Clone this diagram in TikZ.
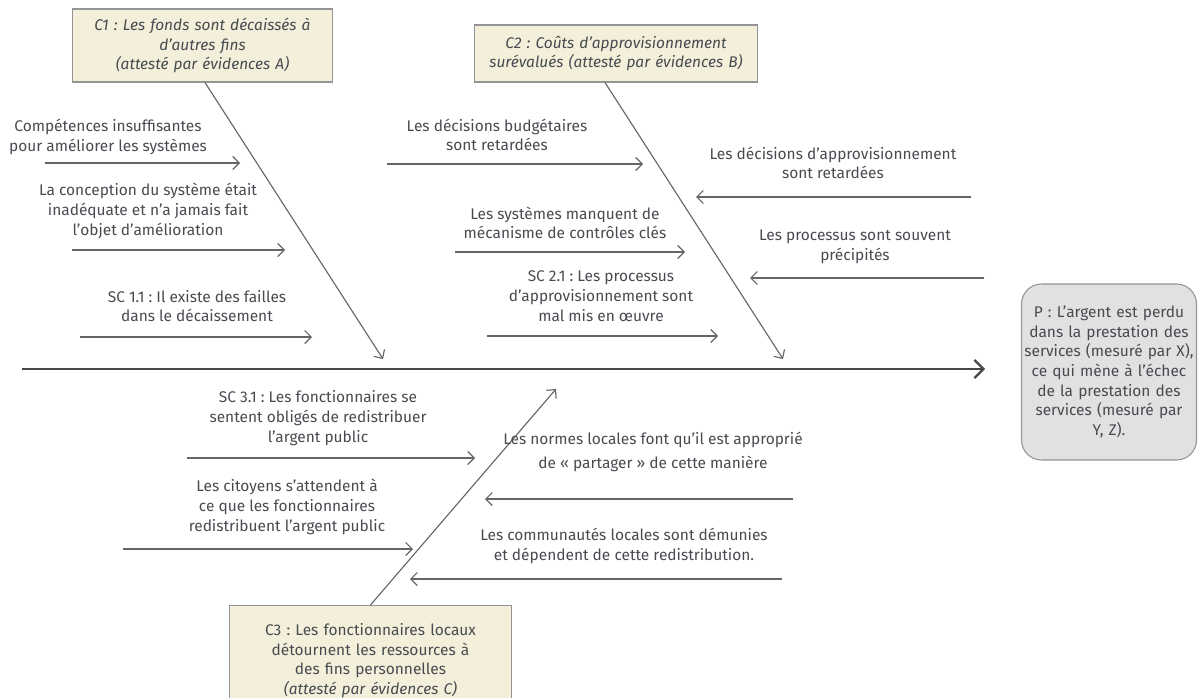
\documentclass[tikz,border=0pt]{standalone}
\usepackage{fontspec}
\setmainfont{Fira Sans}
\usetikzlibrary{arrows.meta,positioning}
\definecolor{ink}{HTML}{474B50}
\definecolor{bone}{HTML}{666666}
\definecolor{causefill}{HTML}{F3EFDA}
\definecolor{probfill}{HTML}{E1E1E2}
\frenchspacing

\begin{document}
\begin{tikzpicture}[
  x=0.2mm,y=-0.2mm,
  font=\fontsize{8.8}{11.2}\selectfont,
  lbl/.style={align=center,inner sep=0pt,text=ink},
  cause/.style={draw=bone!70,fill=causefill,align=center,inner sep=3pt,line width=.6pt,text=ink},
  prob/.style={draw=bone!70,fill=probfill,rounded corners=4mm,align=center,inner sep=3pt,line width=.6pt,text=ink},
  sub/.style={draw=bone,line width=.65pt,-{Straight Barb[length=1.3mm,width=2.6mm]}},
  spine/.style={draw=bone!70!black,line width=1.3pt,-{Straight Barb[length=1.8mm,width=3.6mm]}}
]
\useasboundingbox (0,0) rectangle (1199,698);

% causes and problem
\node[cause,font=\fontsize{8.8}{11.2}\selectfont\itshape,text width=50mm,minimum height=14.6mm] (c1) at (202.5,45.5)
  {C1 : Les fonds sont décaissés à\\d’autres fins\\(attesté par évidences A)};
\node[cause,font=\fontsize{8.8}{11.2}\selectfont\itshape,text width=54.6mm,minimum height=11.4mm] (c2) at (616,53.5)
  {C2 : Coûts d’approvisionnement\\surévalués (attesté par évidences B)};
\node[cause,anchor=north,text width=54.4mm,inner ysep=5pt,minimum height=22mm] (c3) at (370.5,605)
  {C3 : Les fonctionnaires locaux\\détournent les ressources à\\des fins personnelles\\\textit{(attesté par évidences C)}};
\node[prob,text width=34.4mm,inner xsep=0.3mm,minimum height=35.2mm] (p) at (1109,372)
  {P : L’argent est perdu\\dans la prestation des\\services (mesuré par X),\\ce qui mène à l’échec\\de la prestation des\\services (mesuré par\\Y, Z).};

% spine and bones
\coordinate (tail) at (22,369);
\coordinate (head) at (985,369);
\coordinate (b1) at (383,359);
\coordinate (b2) at (783,359);
\coordinate (b3) at (556,389);
\draw[spine] (tail) -- (head);
\draw[sub] ([xshift=0.5mm]c1.south) -- (b1);
\draw[sub] ([xshift=-2.2mm]c2.south) -- (b2);
\draw[sub] (c3.north) -- (b3);

% C1 sub-causes
\node[lbl] (s11) at (108,137) {Compétences insuffisantes\\pour améliorer les systèmes};
\coordinate (s11a) at (45,163);  \coordinate (s11b) at (240,163);
\draw[sub] (s11a) -- (s11b);
\node[lbl] (s12) at (148,211) {La conception du système était\\inadéquate et n’a jamais fait\\l’objet d’amélioration};
\coordinate (s12a) at (72,250);  \coordinate (s12b) at (285,250);
\draw[sub] (s12a) -- (s12b);
\node[lbl] (s13) at (197,306) {SC 1.1 : Il existe des failles\\dans le décaissement};
\coordinate (s13a) at (80,337);  \coordinate (s13b) at (312,337);
\draw[sub] (s13a) -- (s13b);

% C2 sub-causes
\node[lbl] (s21) at (497,135) {Les décisions budgétaires\\sont retardées};
\coordinate (s21a) at (387,164); \coordinate (s21b) at (643,164);
\draw[sub] (s21a) -- (s21b);
\node[lbl] (s22) at (565,223) {Les systèmes manquent de\\mécanisme de contrôles clés};
\coordinate (s22a) at (455,252); \coordinate (s22b) at (685,252);
\draw[sub] (s22a) -- (s22b);
\node[lbl] (s23) at (601,296) {SC 2.1 : Les processus\\d’approvisionnement sont\\mal mis en œuvre};
\coordinate (s23a) at (487,336); \coordinate (s23b) at (718,336);
\draw[sub] (s23a) -- (s23b);
\node[lbl] (s24) at (833,163) {Les décisions d’approvisionnement\\sont retardées};
\coordinate (s24a) at (971,197); \coordinate (s24b) at (696,197);
\draw[sub] (s24a) -- (s24b);
\node[lbl] (s25) at (855,247) {Les processus sont souvent\\précipités};
\coordinate (s25a) at (984,278); \coordinate (s25b) at (750,278);
\draw[sub] (s25a) -- (s25b);

% C3 sub-causes
\node[lbl] (s31) at (318,418) {SC 3.1 : Les fonctionnaires se\\sentent obligés de redistribuer\\l’argent public};
\coordinate (s31a) at (187,458); \coordinate (s31b) at (475,458);
\draw[sub] (s31a) -- (s31b);
\node[lbl] (s32) at (287,507) {Les citoyens s’attendent à\\ce que les fonctionnaires\\redistribuent l’argent public};
\coordinate (s32a) at (123,549); \coordinate (s32b) at (413,549);
\draw[sub] (s32a) -- (s32b);
\node[lbl,font=\fontsize{8.8}{14}\selectfont] (s33) at (653,452) {Les normes locales font qu’il est approprié\\de « partager » de cette manière};
\coordinate (s33a) at (793,499); \coordinate (s33b) at (485,499);
\draw[sub] (s33a) -- (s33b);
\node[lbl] (s34) at (624,546) {Les communautés locales sont démunies\\et dépendent de cette redistribution.};
\coordinate (s34a) at (782,579); \coordinate (s34b) at (410,579);
\draw[sub] (s34a) -- (s34b);
\end{tikzpicture}
\end{document}
